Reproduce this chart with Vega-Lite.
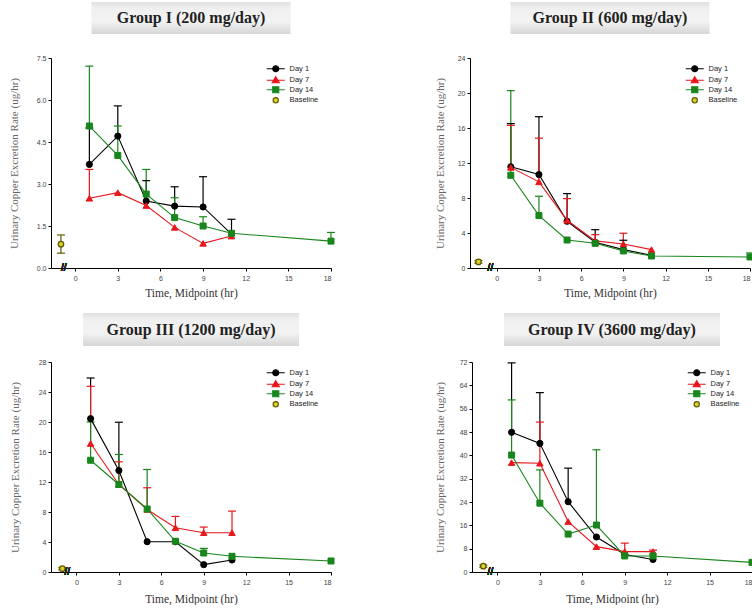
{
  "$schema": "https://vega.github.io/schema/vega-lite/v6.json",
  "padding": {"left": 8, "top": 2, "right": 0, "bottom": 0},
  "config": {
    "view": {"stroke": null},
    "axis": {"grid": false, "domainColor": "#000", "tickColor": "#000", "domainWidth": 1, "tickWidth": 1, "tickSize": 3, "labelFont": "Liberation Sans", "labelFontSize": 7, "labelColor": "#444", "titleFont": "Liberation Serif", "titleFontWeight": "normal"},
    "axisX": {"labelPadding": 3, "titleFontSize": 11.5, "titleColor": "#333", "titlePadding": 6},
    "axisY": {"labelPadding": 2, "titleFontSize": 11, "titleColor": "#666"},
    "legend": {"orient": "none", "legendX": 221, "legendY": 7, "labelFont": "Liberation Sans", "labelFontSize": 7.5, "labelColor": "#222", "symbolSize": 25, "rowPadding": -1.5, "labelOffset": 10, "padding": 0, "symbolStrokeWidth": 1.2, "symbolOpacity": 1}
  },
  "datasets": {
    "d": [
      {"g":"I","s":"Day 1","t":1,"v":3.70,"hi":5.0},
      {"g":"I","s":"Day 1","t":3,"v":4.71,"hi":5.79},
      {"g":"I","s":"Day 1","t":5,"v":2.39,"hi":3.12},
      {"g":"I","s":"Day 1","t":7,"v":2.21,"hi":2.90},
      {"g":"I","s":"Day 1","t":9,"v":2.18,"hi":3.26},
      {"g":"I","s":"Day 1","t":11,"v":1.21,"hi":1.74},
      {"g":"I","s":"Day 7","t":1,"v":2.49,"hi":3.52},
      {"g":"I","s":"Day 7","t":3,"v":2.69},
      {"g":"I","s":"Day 7","t":5,"v":2.23},
      {"g":"I","s":"Day 7","t":7,"v":1.45},
      {"g":"I","s":"Day 7","t":9,"v":0.88},
      {"g":"I","s":"Day 7","t":11,"v":1.14},
      {"g":"I","s":"Day 14","t":1,"v":5.07,"hi":7.21},
      {"g":"I","s":"Day 14","t":3,"v":4.02,"hi":5.07},
      {"g":"I","s":"Day 14","t":5,"v":2.64,"hi":3.52},
      {"g":"I","s":"Day 14","t":7,"v":1.80,"hi":2.51},
      {"g":"I","s":"Day 14","t":9,"v":1.50,"hi":1.83},
      {"g":"I","s":"Day 14","t":11,"v":1.24},
      {"g":"I","s":"Day 14","t":18,"v":0.96,"hi":1.27},
      {"g":"I","s":"Baseline","t":-1,"v":0.85,"lo":0.53,"hi":1.18},

      {"g":"II","s":"Day 1","t":1,"v":11.57,"hi":16.5},
      {"g":"II","s":"Day 1","t":3,"v":10.68,"hi":17.29},
      {"g":"II","s":"Day 1","t":5,"v":5.34,"hi":8.5},
      {"g":"II","s":"Day 1","t":7,"v":2.94,"hi":4.38},
      {"g":"II","s":"Day 1","t":9,"v":2.1,"hi":3.17},
      {"g":"II","s":"Day 1","t":11,"v":1.45},
      {"g":"II","s":"Day 7","t":1,"v":11.5,"hi":16.3},
      {"g":"II","s":"Day 7","t":3,"v":9.85,"hi":14.84},
      {"g":"II","s":"Day 7","t":5,"v":5.45,"hi":7.93},
      {"g":"II","s":"Day 7","t":7,"v":3.1,"hi":3.81},
      {"g":"II","s":"Day 7","t":9,"v":2.75,"hi":3.97},
      {"g":"II","s":"Day 7","t":11,"v":2.1},
      {"g":"II","s":"Day 14","t":1,"v":10.6,"hi":20.27},
      {"g":"II","s":"Day 14","t":3,"v":5.99,"hi":8.2},
      {"g":"II","s":"Day 14","t":5,"v":3.2},
      {"g":"II","s":"Day 14","t":7,"v":2.82},
      {"g":"II","s":"Day 14","t":9,"v":1.95},
      {"g":"II","s":"Day 14","t":11,"v":1.37},
      {"g":"II","s":"Day 14","t":18,"v":1.26,"hi":1.72},
      {"g":"II","s":"Baseline","t":-1.3,"v":0.69,"lo":0.55,"hi":0.85},

      {"g":"III","s":"Day 1","t":1,"v":20.45,"hi":25.87},
      {"g":"III","s":"Day 1","t":3,"v":13.53,"hi":19.97},
      {"g":"III","s":"Day 1","t":5,"v":4.04},
      {"g":"III","s":"Day 1","t":7,"v":4.04},
      {"g":"III","s":"Day 1","t":9,"v":0.98},
      {"g":"III","s":"Day 1","t":11,"v":1.6},
      {"g":"III","s":"Day 7","t":1,"v":17.13,"hi":24.76},
      {"g":"III","s":"Day 7","t":3,"v":11.67,"hi":14.69},
      {"g":"III","s":"Day 7","t":5,"v":8.34,"hi":11.23},
      {"g":"III","s":"Day 7","t":7,"v":5.9,"hi":7.41},
      {"g":"III","s":"Day 7","t":9,"v":5.24,"hi":5.99},
      {"g":"III","s":"Day 7","t":11,"v":5.24,"hi":8.12},
      {"g":"III","s":"Day 14","t":1,"v":14.9,"hi":20.0},
      {"g":"III","s":"Day 14","t":3,"v":11.67,"hi":15.67},
      {"g":"III","s":"Day 14","t":5,"v":8.4,"hi":13.67},
      {"g":"III","s":"Day 14","t":7,"v":4.1},
      {"g":"III","s":"Day 14","t":9,"v":2.53,"hi":3.15},
      {"g":"III","s":"Day 14","t":11,"v":2.09},
      {"g":"III","s":"Day 14","t":18,"v":1.47},
      {"g":"III","s":"Baseline","t":-1,"v":0.45,"lo":0.3,"hi":0.6},

      {"g":"IV","s":"Day 1","t":1,"v":47.9,"hi":71.7},
      {"g":"IV","s":"Day 1","t":3,"v":44.1,"hi":61.5},
      {"g":"IV","s":"Day 1","t":5,"v":24.1,"hi":35.6},
      {"g":"IV","s":"Day 1","t":7,"v":12.0},
      {"g":"IV","s":"Day 1","t":9,"v":6.0},
      {"g":"IV","s":"Day 1","t":11,"v":4.3},
      {"g":"IV","s":"Day 7","t":1,"v":37.5},
      {"g":"IV","s":"Day 7","t":3,"v":37.3,"hi":51.4},
      {"g":"IV","s":"Day 7","t":5,"v":17.3},
      {"g":"IV","s":"Day 7","t":7,"v":8.7},
      {"g":"IV","s":"Day 7","t":9,"v":7.0,"hi":9.9},
      {"g":"IV","s":"Day 7","t":11,"v":7.0,"hi":7.5},
      {"g":"IV","s":"Day 14","t":1,"v":40.1,"hi":59.0},
      {"g":"IV","s":"Day 14","t":3,"v":23.6,"hi":35.0},
      {"g":"IV","s":"Day 14","t":5,"v":13.0},
      {"g":"IV","s":"Day 14","t":7,"v":16.1,"hi":41.9},
      {"g":"IV","s":"Day 14","t":9,"v":5.5},
      {"g":"IV","s":"Day 14","t":11,"v":5.5},
      {"g":"IV","s":"Day 14","t":18,"v":3.3},
      {"g":"IV","s":"Baseline","t":-1,"v":2.0,"lo":1.6,"hi":2.4}
    ]
  },
  "resolve": {"scale": {"color": "independent", "fill": "independent", "stroke": "independent", "shape": "independent"}, "legend": {"color": "independent", "fill": "independent", "stroke": "independent", "shape": "independent"}},
  "spacing": 14,
  "vconcat": [
    {
      "spacing": 96,
      "resolve": {"scale": {"color": "independent", "fill": "independent", "stroke": "independent", "shape": "independent"}, "legend": {"color": "independent", "fill": "independent", "stroke": "independent", "shape": "independent"}},
      "hconcat": [
        {
          "spacing": 24, "bounds": "flush", "center": true,
          "resolve": {"scale": {"color": "independent", "fill": "independent", "stroke": "independent", "shape": "independent"}, "legend": {"color": "independent", "fill": "independent", "stroke": "independent", "shape": "independent"}},
          "vconcat": [
            {
              "width": 199, "height": 32,
              "data": {"values": [{"title": "Group I (200 mg/day)"}]},
              "layer": [
                {"mark": {"type": "rect", "fill": {"gradient": "linear", "x1": 0, "y1": 0, "x2": 0, "y2": 1, "stops": [{"offset": 0, "color": "#e0e0e0"}, {"offset": 0.2, "color": "#efefef"}, {"offset": 0.6, "color": "#f3f3f3"}, {"offset": 1, "color": "#d6d6d6"}]}}, "encoding": {}},
                {"mark": {"type": "text", "font": "Liberation Serif", "fontSize": 16, "fontWeight": "bold", "fill": "#222", "baseline": "middle", "align": "center"}, "encoding": {"text": {"field": "title"}}}
              ]
            },
            {
              "width": 280, "height": 210,
              "data": {"name": "d"},
              "transform": [{"filter": "datum.g === 'I'"}],
              "encoding": {
                "x": {"field": "t", "type": "quantitative", "title": "Time, Midpoint (hr)", "scale": {"domain": [-1.7, 18], "nice": false, "zero": false}, "axis": {"values": [0, 3, 6, 9, 12, 15, 18]}},
                "y": {"field": "v", "type": "quantitative", "title": "Urinary Copper Excretion Rate (ug/hr)", "scale": {"domain": [0, 7.5], "nice": false}, "axis": {"values": [0, 1.5, 3, 4.5, 6, 7.5], "format": ".1f", "titlePadding": 17}}
              },
              "layer": [
                {"transform": [{"filter": "isValid(datum.hi)"}], "mark": {"type": "rule", "strokeWidth": 1.2}, "encoding": {"y2": {"field": "hi"}, "color": {"field": "s", "type": "nominal", "legend": null, "scale": {"domain": ["Baseline", "Day 1", "Day 7", "Day 14"], "range": ["#5e5a00", "#000000", "#e8171c", "#18861c"]}}}},
                {"transform": [{"filter": "isValid(datum.lo)"}], "mark": {"type": "rule", "strokeWidth": 1.2}, "encoding": {"y2": {"field": "lo"}, "color": {"field": "s", "type": "nominal", "legend": null}}},
                {"transform": [{"filter": "isValid(datum.hi)"}], "mark": {"type": "point", "shape": "M-1,0H1", "size": 64, "filled": false, "strokeWidth": 1.2, "opacity": 1}, "encoding": {"y": {"field": "hi", "type": "quantitative", "title": "Urinary Copper Excretion Rate (ug/hr)"}, "color": {"field": "s", "type": "nominal", "legend": null}}},
                {"transform": [{"filter": "isValid(datum.lo)"}], "mark": {"type": "point", "shape": "M-1,0H1", "size": 64, "filled": false, "strokeWidth": 1.2, "opacity": 1}, "encoding": {"y": {"field": "lo", "type": "quantitative", "title": "Urinary Copper Excretion Rate (ug/hr)"}, "color": {"field": "s", "type": "nominal", "legend": null}}},
                {"transform": [{"filter": "datum.s !== 'Baseline'"}], "mark": {"type": "line", "strokeWidth": 1.1}, "encoding": {"color": {"field": "s", "type": "nominal", "legend": null}}},
                {"transform": [{"filter": "datum.s === 'Day 1'"}], "mark": {"type": "point", "shape": "circle", "filled": true, "size": 38, "fill": "#000000", "stroke": "#000000", "strokeWidth": 1, "opacity": 1}},
                {"transform": [{"filter": "datum.s === 'Day 7'"}], "mark": {"type": "point", "shape": "triangle-up", "filled": true, "size": 42, "fill": "#e8171c", "stroke": "#e8171c", "strokeWidth": 1, "opacity": 1}},
                {"transform": [{"filter": "datum.s === 'Day 14'"}], "mark": {"type": "point", "shape": "square", "filled": true, "size": 36, "fill": "#18861c", "stroke": "#18861c", "strokeWidth": 1, "opacity": 1}},
                {"transform": [{"filter": "datum.s === 'Baseline'"}], "mark": {"type": "point", "shape": "circle", "filled": true, "size": 30, "fill": "#d8cf2a", "stroke": "#5e5a00", "strokeWidth": 1.3, "opacity": 1}},
                {"transform": [{"filter": "false"}], "mark": {"type": "point", "filled": true, "opacity": 1, "strokeWidth": 1.2},
                 "encoding": {
                   "shape": {"field": "s", "type": "nominal", "title": null, "scale": {"domain": ["Day 1", "Day 7", "Day 14", "Baseline"], "range": ["M-3.6,0H3.6M1.2,0A1.2,1.2,0,1,1,-1.2,0A1.2,1.2,0,1,1,1.2,0Z", "M-3.6,0H3.6M0,-1.4L1.4,1L-1.4,1Z", "M-3.6,0H3.6M-1.2,-1.2H1.2V1.2H-1.2Z", "M1.05,0A1.05,1.05,0,1,1,-1.05,0A1.05,1.05,0,1,1,1.05,0Z"]}},
                   "fill": {"field": "s", "type": "nominal", "title": null, "scale": {"domain": ["Day 1", "Day 7", "Day 14", "Baseline"], "range": ["#000000", "#e8171c", "#18861c", "#d8cf2a"]}},
                   "stroke": {"field": "s", "type": "nominal", "title": null, "scale": {"domain": ["Day 1", "Day 7", "Day 14", "Baseline"], "range": ["#000000", "#e8171c", "#18861c", "#5e5a00"]}}
                 }},
                {"mark": {"type": "text", "text": "//", "font": "Liberation Sans", "fontSize": 10, "fill": "#222", "baseline": "middle", "align": "center"}, "encoding": {"x": {"datum": -0.8, "type": "quantitative"}, "y": {"datum": 0, "type": "quantitative"}}}
              ]
            }
          ]
        },
        {
          "spacing": 24, "bounds": "flush", "center": true,
          "resolve": {"scale": {"color": "independent", "fill": "independent", "stroke": "independent", "shape": "independent"}, "legend": {"color": "independent", "fill": "independent", "stroke": "independent", "shape": "independent"}},
          "vconcat": [
            {
              "width": 199, "height": 32,
              "data": {"values": [{"title": "Group II (600 mg/day)"}]},
              "layer": [
                {"mark": {"type": "rect", "fill": {"gradient": "linear", "x1": 0, "y1": 0, "x2": 0, "y2": 1, "stops": [{"offset": 0, "color": "#e0e0e0"}, {"offset": 0.2, "color": "#efefef"}, {"offset": 0.6, "color": "#f3f3f3"}, {"offset": 1, "color": "#d6d6d6"}]}}, "encoding": {}},
                {"mark": {"type": "text", "font": "Liberation Serif", "fontSize": 16, "fontWeight": "bold", "fill": "#222", "baseline": "middle", "align": "center"}, "encoding": {"text": {"field": "title"}}}
              ]
            },
            {
              "width": 280, "height": 210,
              "data": {"name": "d"},
              "transform": [{"filter": "datum.g === 'II'"}],
              "encoding": {
                "x": {"field": "t", "type": "quantitative", "title": "Time, Midpoint (hr)", "scale": {"domain": [-1.9, 18], "nice": false, "zero": false}, "axis": {"values": [0, 3, 6, 9, 12, 15, 18]}},
                "y": {"field": "v", "type": "quantitative", "title": "Urinary Copper Excretion Rate (ug/hr)", "scale": {"domain": [0, 24], "nice": false}, "axis": {"values": [0, 4, 8, 12, 16, 20, 24], "titlePadding": 12}}
              },
              "layer": [
                {"transform": [{"filter": "isValid(datum.hi)"}], "mark": {"type": "rule", "strokeWidth": 1.2}, "encoding": {"y2": {"field": "hi"}, "color": {"field": "s", "type": "nominal", "legend": null, "scale": {"domain": ["Baseline", "Day 1", "Day 7", "Day 14"], "range": ["#5e5a00", "#000000", "#e8171c", "#18861c"]}}}},
                {"transform": [{"filter": "isValid(datum.lo)"}], "mark": {"type": "rule", "strokeWidth": 1.2}, "encoding": {"y2": {"field": "lo"}, "color": {"field": "s", "type": "nominal", "legend": null}}},
                {"transform": [{"filter": "isValid(datum.hi)"}], "mark": {"type": "point", "shape": "M-1,0H1", "size": 64, "filled": false, "strokeWidth": 1.2, "opacity": 1}, "encoding": {"y": {"field": "hi", "type": "quantitative", "title": "Urinary Copper Excretion Rate (ug/hr)"}, "color": {"field": "s", "type": "nominal", "legend": null}}},
                {"transform": [{"filter": "isValid(datum.lo)"}], "mark": {"type": "point", "shape": "M-1,0H1", "size": 64, "filled": false, "strokeWidth": 1.2, "opacity": 1}, "encoding": {"y": {"field": "lo", "type": "quantitative", "title": "Urinary Copper Excretion Rate (ug/hr)"}, "color": {"field": "s", "type": "nominal", "legend": null}}},
                {"transform": [{"filter": "datum.s !== 'Baseline'"}], "mark": {"type": "line", "strokeWidth": 1.1}, "encoding": {"color": {"field": "s", "type": "nominal", "legend": null}}},
                {"transform": [{"filter": "datum.s === 'Day 1'"}], "mark": {"type": "point", "shape": "circle", "filled": true, "size": 38, "fill": "#000000", "stroke": "#000000", "strokeWidth": 1, "opacity": 1}},
                {"transform": [{"filter": "datum.s === 'Day 7'"}], "mark": {"type": "point", "shape": "triangle-up", "filled": true, "size": 42, "fill": "#e8171c", "stroke": "#e8171c", "strokeWidth": 1, "opacity": 1}},
                {"transform": [{"filter": "datum.s === 'Day 14'"}], "mark": {"type": "point", "shape": "square", "filled": true, "size": 36, "fill": "#18861c", "stroke": "#18861c", "strokeWidth": 1, "opacity": 1}},
                {"transform": [{"filter": "datum.s === 'Baseline'"}], "mark": {"type": "point", "shape": "circle", "filled": true, "size": 30, "fill": "#d8cf2a", "stroke": "#5e5a00", "strokeWidth": 1.3, "opacity": 1}},
                {"transform": [{"filter": "false"}], "mark": {"type": "point", "filled": true, "opacity": 1, "strokeWidth": 1.2},
                 "encoding": {
                   "shape": {"field": "s", "type": "nominal", "title": null, "scale": {"domain": ["Day 1", "Day 7", "Day 14", "Baseline"], "range": ["M-3.6,0H3.6M1.2,0A1.2,1.2,0,1,1,-1.2,0A1.2,1.2,0,1,1,1.2,0Z", "M-3.6,0H3.6M0,-1.4L1.4,1L-1.4,1Z", "M-3.6,0H3.6M-1.2,-1.2H1.2V1.2H-1.2Z", "M1.05,0A1.05,1.05,0,1,1,-1.05,0A1.05,1.05,0,1,1,1.05,0Z"]}},
                   "fill": {"field": "s", "type": "nominal", "title": null, "scale": {"domain": ["Day 1", "Day 7", "Day 14", "Baseline"], "range": ["#000000", "#e8171c", "#18861c", "#d8cf2a"]}},
                   "stroke": {"field": "s", "type": "nominal", "title": null, "scale": {"domain": ["Day 1", "Day 7", "Day 14", "Baseline"], "range": ["#000000", "#e8171c", "#18861c", "#5e5a00"]}}
                 }},
                {"mark": {"type": "text", "text": "//", "font": "Liberation Sans", "fontSize": 10, "fill": "#222", "baseline": "middle", "align": "center"}, "encoding": {"x": {"datum": -0.45, "type": "quantitative"}, "y": {"datum": 0, "type": "quantitative"}}}
              ]
            }
          ]
        }
      ]
    },
    {
      "spacing": 98,
      "resolve": {"scale": {"color": "independent", "fill": "independent", "stroke": "independent", "shape": "independent"}, "legend": {"color": "independent", "fill": "independent", "stroke": "independent", "shape": "independent"}},
      "hconcat": [
        {
          "spacing": 16, "bounds": "flush", "center": true,
          "resolve": {"scale": {"color": "independent", "fill": "independent", "stroke": "independent", "shape": "independent"}, "legend": {"color": "independent", "fill": "independent", "stroke": "independent", "shape": "independent"}},
          "vconcat": [
            {
              "width": 216, "height": 33,
              "data": {"values": [{"title": "Group III (1200 mg/day)"}]},
              "layer": [
                {"mark": {"type": "rect", "fill": {"gradient": "linear", "x1": 0, "y1": 0, "x2": 0, "y2": 1, "stops": [{"offset": 0, "color": "#e0e0e0"}, {"offset": 0.2, "color": "#efefef"}, {"offset": 0.6, "color": "#f3f3f3"}, {"offset": 1, "color": "#d6d6d6"}]}}, "encoding": {}},
                {"mark": {"type": "text", "font": "Liberation Serif", "fontSize": 16, "fontWeight": "bold", "fill": "#222", "baseline": "middle", "align": "center"}, "encoding": {"text": {"field": "title"}}}
              ]
            },
            {
              "width": 280, "height": 210,
              "data": {"name": "d"},
              "transform": [{"filter": "datum.g === 'III'"}],
              "encoding": {
                "x": {"field": "t", "type": "quantitative", "title": "Time, Midpoint (hr)", "scale": {"domain": [-1.8, 18], "nice": false, "zero": false}, "axis": {"values": [0, 3, 6, 9, 12, 15, 18], "titlePadding": 8}},
                "y": {"field": "v", "type": "quantitative", "title": "Urinary Copper Excretion Rate (ug/hr)", "scale": {"domain": [0, 28], "nice": false}, "axis": {"values": [0, 4, 8, 12, 16, 20, 24, 28], "titlePadding": 18}}
              },
              "layer": [
                {"transform": [{"filter": "isValid(datum.hi)"}], "mark": {"type": "rule", "strokeWidth": 1.2}, "encoding": {"y2": {"field": "hi"}, "color": {"field": "s", "type": "nominal", "legend": null, "scale": {"domain": ["Baseline", "Day 1", "Day 7", "Day 14"], "range": ["#5e5a00", "#000000", "#e8171c", "#18861c"]}}}},
                {"transform": [{"filter": "isValid(datum.lo)"}], "mark": {"type": "rule", "strokeWidth": 1.2}, "encoding": {"y2": {"field": "lo"}, "color": {"field": "s", "type": "nominal", "legend": null}}},
                {"transform": [{"filter": "isValid(datum.hi)"}], "mark": {"type": "point", "shape": "M-1,0H1", "size": 64, "filled": false, "strokeWidth": 1.2, "opacity": 1}, "encoding": {"y": {"field": "hi", "type": "quantitative", "title": "Urinary Copper Excretion Rate (ug/hr)"}, "color": {"field": "s", "type": "nominal", "legend": null}}},
                {"transform": [{"filter": "isValid(datum.lo)"}], "mark": {"type": "point", "shape": "M-1,0H1", "size": 64, "filled": false, "strokeWidth": 1.2, "opacity": 1}, "encoding": {"y": {"field": "lo", "type": "quantitative", "title": "Urinary Copper Excretion Rate (ug/hr)"}, "color": {"field": "s", "type": "nominal", "legend": null}}},
                {"transform": [{"filter": "datum.s !== 'Baseline'"}], "mark": {"type": "line", "strokeWidth": 1.1}, "encoding": {"color": {"field": "s", "type": "nominal", "legend": null}}},
                {"transform": [{"filter": "datum.s === 'Day 1'"}], "mark": {"type": "point", "shape": "circle", "filled": true, "size": 38, "fill": "#000000", "stroke": "#000000", "strokeWidth": 1, "opacity": 1}},
                {"transform": [{"filter": "datum.s === 'Day 7'"}], "mark": {"type": "point", "shape": "triangle-up", "filled": true, "size": 42, "fill": "#e8171c", "stroke": "#e8171c", "strokeWidth": 1, "opacity": 1}},
                {"transform": [{"filter": "datum.s === 'Day 14'"}], "mark": {"type": "point", "shape": "square", "filled": true, "size": 36, "fill": "#18861c", "stroke": "#18861c", "strokeWidth": 1, "opacity": 1}},
                {"transform": [{"filter": "datum.s === 'Baseline'"}], "mark": {"type": "point", "shape": "circle", "filled": true, "size": 30, "fill": "#d8cf2a", "stroke": "#5e5a00", "strokeWidth": 1.3, "opacity": 1}},
                {"transform": [{"filter": "false"}], "mark": {"type": "point", "filled": true, "opacity": 1, "strokeWidth": 1.2},
                 "encoding": {
                   "shape": {"field": "s", "type": "nominal", "title": null, "scale": {"domain": ["Day 1", "Day 7", "Day 14", "Baseline"], "range": ["M-3.6,0H3.6M1.2,0A1.2,1.2,0,1,1,-1.2,0A1.2,1.2,0,1,1,1.2,0Z", "M-3.6,0H3.6M0,-1.4L1.4,1L-1.4,1Z", "M-3.6,0H3.6M-1.2,-1.2H1.2V1.2H-1.2Z", "M1.05,0A1.05,1.05,0,1,1,-1.05,0A1.05,1.05,0,1,1,1.05,0Z"]}},
                   "fill": {"field": "s", "type": "nominal", "title": null, "scale": {"domain": ["Day 1", "Day 7", "Day 14", "Baseline"], "range": ["#000000", "#e8171c", "#18861c", "#d8cf2a"]}},
                   "stroke": {"field": "s", "type": "nominal", "title": null, "scale": {"domain": ["Day 1", "Day 7", "Day 14", "Baseline"], "range": ["#000000", "#e8171c", "#18861c", "#5e5a00"]}}
                 }},
                {"mark": {"type": "text", "text": "//", "font": "Liberation Sans", "fontSize": 10, "fill": "#222", "baseline": "middle", "align": "center"}, "encoding": {"x": {"datum": -0.65, "type": "quantitative"}, "y": {"datum": 0, "type": "quantitative"}}}
              ]
            }
          ]
        },
        {
          "spacing": 16, "bounds": "flush", "center": true,
          "resolve": {"scale": {"color": "independent", "fill": "independent", "stroke": "independent", "shape": "independent"}, "legend": {"color": "independent", "fill": "independent", "stroke": "independent", "shape": "independent"}},
          "vconcat": [
            {
              "width": 216, "height": 33,
              "data": {"values": [{"title": "Group IV (3600 mg/day)"}]},
              "layer": [
                {"mark": {"type": "rect", "fill": {"gradient": "linear", "x1": 0, "y1": 0, "x2": 0, "y2": 1, "stops": [{"offset": 0, "color": "#e0e0e0"}, {"offset": 0.2, "color": "#efefef"}, {"offset": 0.6, "color": "#f3f3f3"}, {"offset": 1, "color": "#d6d6d6"}]}}, "encoding": {}},
                {"mark": {"type": "text", "font": "Liberation Serif", "fontSize": 16, "fontWeight": "bold", "fill": "#222", "baseline": "middle", "align": "center"}, "encoding": {"text": {"field": "title"}}}
              ]
            },
            {
              "width": 280, "height": 210,
              "data": {"name": "d"},
              "transform": [{"filter": "datum.g === 'IV'"}],
              "encoding": {
                "x": {"field": "t", "type": "quantitative", "title": "Time, Midpoint (hr)", "scale": {"domain": [-1.8, 18], "nice": false, "zero": false}, "axis": {"values": [0, 3, 6, 9, 12, 15, 18], "titlePadding": 8}},
                "y": {"field": "v", "type": "quantitative", "title": "Urinary Copper Excretion Rate (ug/hr)", "scale": {"domain": [0, 72], "nice": false}, "axis": {"values": [0, 8, 16, 24, 32, 40, 48, 56, 64, 72], "titlePadding": 14}}
              },
              "layer": [
                {"transform": [{"filter": "isValid(datum.hi)"}], "mark": {"type": "rule", "strokeWidth": 1.2}, "encoding": {"y2": {"field": "hi"}, "color": {"field": "s", "type": "nominal", "legend": null, "scale": {"domain": ["Baseline", "Day 1", "Day 7", "Day 14"], "range": ["#5e5a00", "#000000", "#e8171c", "#18861c"]}}}},
                {"transform": [{"filter": "isValid(datum.lo)"}], "mark": {"type": "rule", "strokeWidth": 1.2}, "encoding": {"y2": {"field": "lo"}, "color": {"field": "s", "type": "nominal", "legend": null}}},
                {"transform": [{"filter": "isValid(datum.hi)"}], "mark": {"type": "point", "shape": "M-1,0H1", "size": 64, "filled": false, "strokeWidth": 1.2, "opacity": 1}, "encoding": {"y": {"field": "hi", "type": "quantitative", "title": "Urinary Copper Excretion Rate (ug/hr)"}, "color": {"field": "s", "type": "nominal", "legend": null}}},
                {"transform": [{"filter": "isValid(datum.lo)"}], "mark": {"type": "point", "shape": "M-1,0H1", "size": 64, "filled": false, "strokeWidth": 1.2, "opacity": 1}, "encoding": {"y": {"field": "lo", "type": "quantitative", "title": "Urinary Copper Excretion Rate (ug/hr)"}, "color": {"field": "s", "type": "nominal", "legend": null}}},
                {"transform": [{"filter": "datum.s !== 'Baseline'"}], "mark": {"type": "line", "strokeWidth": 1.1}, "encoding": {"color": {"field": "s", "type": "nominal", "legend": null}}},
                {"transform": [{"filter": "datum.s === 'Day 1'"}], "mark": {"type": "point", "shape": "circle", "filled": true, "size": 38, "fill": "#000000", "stroke": "#000000", "strokeWidth": 1, "opacity": 1}},
                {"transform": [{"filter": "datum.s === 'Day 7'"}], "mark": {"type": "point", "shape": "triangle-up", "filled": true, "size": 42, "fill": "#e8171c", "stroke": "#e8171c", "strokeWidth": 1, "opacity": 1}},
                {"transform": [{"filter": "datum.s === 'Day 14'"}], "mark": {"type": "point", "shape": "square", "filled": true, "size": 36, "fill": "#18861c", "stroke": "#18861c", "strokeWidth": 1, "opacity": 1}},
                {"transform": [{"filter": "datum.s === 'Baseline'"}], "mark": {"type": "point", "shape": "circle", "filled": true, "size": 30, "fill": "#d8cf2a", "stroke": "#5e5a00", "strokeWidth": 1.3, "opacity": 1}},
                {"transform": [{"filter": "false"}], "mark": {"type": "point", "filled": true, "opacity": 1, "strokeWidth": 1.2},
                 "encoding": {
                   "shape": {"field": "s", "type": "nominal", "title": null, "scale": {"domain": ["Day 1", "Day 7", "Day 14", "Baseline"], "range": ["M-3.6,0H3.6M1.2,0A1.2,1.2,0,1,1,-1.2,0A1.2,1.2,0,1,1,1.2,0Z", "M-3.6,0H3.6M0,-1.4L1.4,1L-1.4,1Z", "M-3.6,0H3.6M-1.2,-1.2H1.2V1.2H-1.2Z", "M1.05,0A1.05,1.05,0,1,1,-1.05,0A1.05,1.05,0,1,1,1.05,0Z"]}},
                   "fill": {"field": "s", "type": "nominal", "title": null, "scale": {"domain": ["Day 1", "Day 7", "Day 14", "Baseline"], "range": ["#000000", "#e8171c", "#18861c", "#d8cf2a"]}},
                   "stroke": {"field": "s", "type": "nominal", "title": null, "scale": {"domain": ["Day 1", "Day 7", "Day 14", "Baseline"], "range": ["#000000", "#e8171c", "#18861c", "#5e5a00"]}}
                 }},
                {"mark": {"type": "text", "text": "//", "font": "Liberation Sans", "fontSize": 10, "fill": "#222", "baseline": "middle", "align": "center"}, "encoding": {"x": {"datum": -0.5, "type": "quantitative"}, "y": {"datum": 0, "type": "quantitative"}}}
              ]
            }
          ]
        }
      ]
    }
  ]
}
